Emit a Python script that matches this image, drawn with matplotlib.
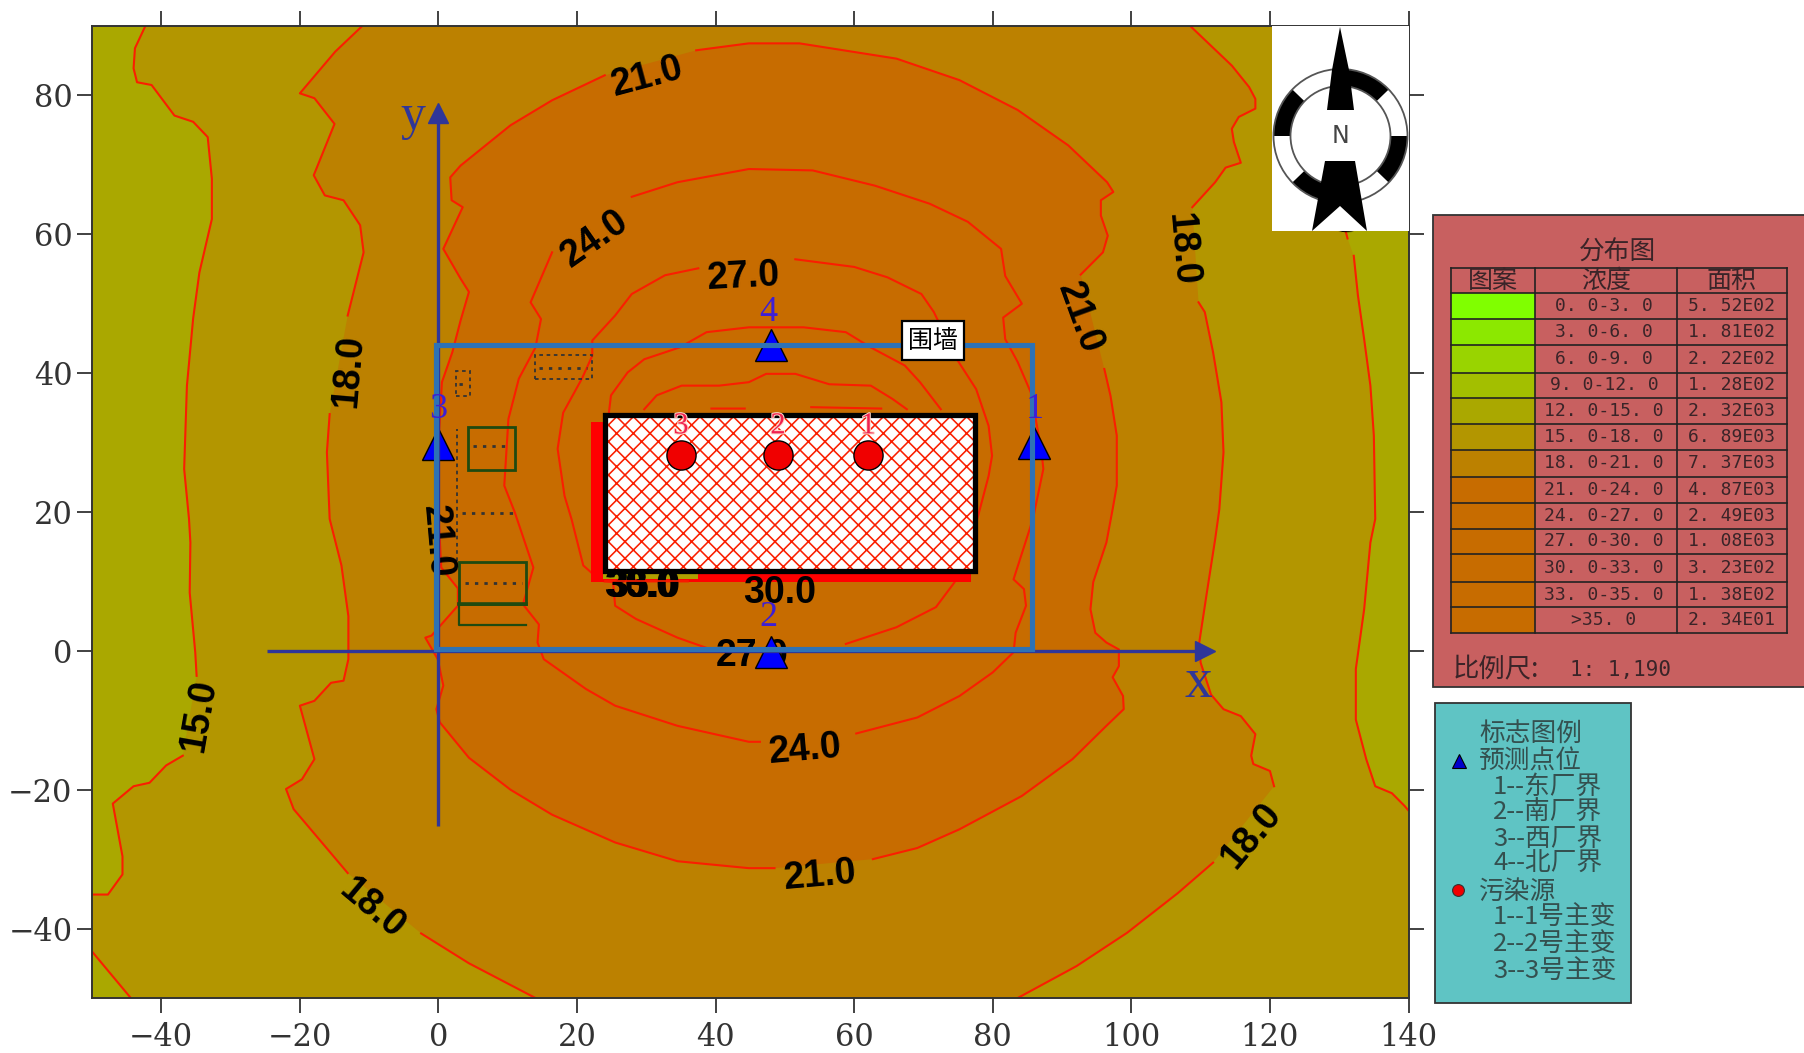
import numpy as np
import matplotlib
matplotlib.use("Agg")
import matplotlib.pyplot as plt
from matplotlib.patches import Rectangle, Polygon, Wedge, Circle
import matplotlib.patheffects as pe

CJK = ['Noto Sans CJK SC', 'DejaVu Sans']
plt.rcParams['font.family'] = CJK
plt.rcParams['hatch.linewidth'] = 1.15
plt.rcParams['axes.unicode_minus'] = True

N = (np.nan, np.nan)

# ---------- data ----------
x_ticks = [-40, -20, 0, 20, 40, 60, 80, 100, 120, 140]
y_ticks = [-40, -20, 0, 20, 40, 60, 80]

c15_left = [(-42.3,90),(-43.8,86.8),(-44,83.9),(-43.5,81.9),(-41.4,81.5),(-38.1,77.1),(-35.4,76.2),(-33.3,74),
            (-32.7,68),(-32.7,62.2),(-34.5,54.5),(-35.4,47.9),(-36.3,38.2),(-36.7,26.2),(-36,19),(-35.8,15.6),
            (-35.9,8.4),(-35.1,-0.2),(-34.9,-3.6),N,(-36.9,-15.1),(-39.3,-16.5),(-41.7,-19),(-44,-19.5),(-47,-22),
            (-45.6,-29.6),(-45.6,-32.2),(-47.7,-35.1),(-50,-35.1)]
c15_corner = [(-50,-43.3),(-44.4,-50)]
c15_right = [(124,90),(128,72),(131.2,59.4),N,(132.1,56.9),(132.7,51.2),(133.6,44.9),(134.5,38.2),(135,31),(135.2,19),
             (134.5,15.6),(133.6,6),(132.4,-2.6),(132.4,-9.9),(133.9,-15.6),(135.2,-19.5),(137.6,-20.5),(139.4,-22.3),(140,-23)]

c18_left = [(-11,90),(-14.9,86.3),(-20,80.3),(-17.9,79.6),(-15,75.9),(-18,68.5),(-16.4,65.6),(-13.7,64.9),(-11.3,61.3),
            (-10.8,57.4),(-13.1,48.3),N,(-15.7,34.1),(-16.1,28.6),(-15.7,19),(-14,12.3),(-13,5),(-13,-1.2),(-13.7,-4.3),
            (-15.5,-4.6),(-17.9,-7.2),(-20,-7.9),(-17.9,-15.6),(-19.7,-18.5),(-22,-19.9),(-20.9,-22.8),(-13.1,-32),N,
            (-2.5,-40.7),(4.4,-45),(14,-50)]
c18_right = [(83.6,-50),(92.1,-45.4),(99.4,-40.6),(106.7,-34.9),(111.8,-30.5),N,(120.6,-19.5),(120,-17.3),(117.6,-16.3),
             (117.3,-15.1),(117.9,-12),(115.8,-9.4),(113.3,-8.4),(111.5,-6.3),(110,-1.7),(109.8,1.2),(110.9,8.4),
             (112.1,16.1),(112.7,20.4),(113.3,28.6),(113,35.8),(111.8,43),(110.6,48.8),(109.7,50.2),N,(108.8,63.9),
             (112.1,67.5),(113.6,69.6),(115.8,70.3),(114.8,73.3),(114.5,75.2),(115.5,76.9),(117.9,78.1),(117.9,79.5),
             (117,81.2),(114.5,84.3),(108.5,90)]

c21 = [(37.2,86.5),(44.8,87.5),(52.1,87.5),(66.1,85.3),(75.2,82.2),(83.6,77.9),(90.9,72.8),(96.5,67.5),(97.4,66.1),
       (95.6,64.9),(95.6,62.7),(96.6,59.8),(95.9,57.4),(92.7,54.2),N,(96.1,40.6),(97,36.7),(97.9,31),(97.9,23.8),
       (97.3,20.4),(96.4,15.6),(94.5,9.9),(94.1,6),(94.8,2.6),(96.4,1.2),(98.2,0.2),(98.2,-2.2),(97.3,-3.8),(98.8,-6.5),
       (98.9,-8.4),(96.4,-10.8),(91.5,-15.6),(84.2,-20.9),(75.2,-25.7),(69.1,-28.4),(62.7,-30),N,(48.5,-31.3),
       (44.8,-31.3),(34.5,-30.3),(25.5,-27.6),(16.4,-23.6),(10.4,-20),(4.4,-15.4),(0.2,-10.3),(-0.3,-8.4),(0.7,-5),
       (-0.1,-1.2),(-1.9,1.9),(-1,2.2),(2.8,6.5),(2.8,9),(0.4,12),(0,20),(0,30),(0.5,38.7),(2,43),(3.2,47.6),(4.4,51.7),
       (3.2,53.6),(0.7,57.9),(3.5,63.9),(1.9,64.9),(1.7,68.2),(3.2,69.9),(10.4,75.7),(16.4,79.3),(24,82.9),N,(37.2,86.5)]

c24 = [(27.9,65.4),(34.5,67.5),(44.8,69.4),(54,69.2),(63,67),(70.9,64.4),(76.4,61.8),(81.2,57.9),(81.8,54),(84.2,50),
       (81.5,48),(81.8,44.9),(83.6,41.6),(85.5,37.2),(87,29),(87.3,26.2),(85.8,19),(83,10.3),(84.5,8.9),(84.8,6.5),
       (83.3,2.6),(83,-0.2),(80,-3.1),(75.2,-6.5),(69.1,-9.6),(60.3,-11.9),N,(46.4,-13.1),(44.8,-13.1),(34.5,-10.8),
       (25.5,-7.9),(21.3,-5.5),(15.2,-1.2),(14.3,1.2),(14.5,3.8),(12.2,6.7),(13.7,12),(11,20),(9.5,23.8),(10.1,33.4),
       (11.6,39.2),(14,43.7),(14.8,47.8),(13.3,50.2),(16.4,57.4)]

c27 = [(37.5,55.1),(32.7,54.1),(27.9,51.4),(25.5,48.3),(22.2,44.7),(22.2,42.5),(20.7,39.2),(18,34.3),(17.2,29.1),(18.2,22.3),
       (19.2,19),(20.9,12.3),(23.4,10.1),(25.2,9.9),(25.5,6.5),(28.5,4.6),(34.5,1.9),(39.9,0),N,(58.8,1),(66.1,3.4),(71.8,6.3),
       (74.5,9.9),(77.3,17.5),(77.9,19.5),(79.4,25.2),(79.9,28.1),(79.4,32.4),(77.6,37.7),(74.5,42.5),(71.5,48.8),(69.7,51.4),
       (64.8,53.8),(60,55.3),(51.5,56.4)]
c30 = [(24.6,34.3),(24.9,36.8),(27.3,40.1),(29.7,42),(34.8,43.7),(38.7,45.9),(44.8,46.6),(52.7,46.6),(58.8,45.9),(62.4,43.7),
       (67.3,41.1),(69.5,38.7),(72.5,34.8)]
c33 = [(29.7,34.8),(31.5,36.8),(35.1,38.2),(40.5,38.2),(44.8,38.7),(47.3,39.9),(51.5,39.9),(56.4,38.4),(62.4,38.2),(65.5,36.3),(67.6,34.8)]
c_bits = [(39.4,34.9),(44.2,34.9),N,(53.8,35.1),(63.9,34.9),N,(24,10),(36,10)]

label_text = ['21.0','24.0','27.0','21.0','18.0','18.0','15.0','24.0','21.0','18.0','18.0','30.0','27.0','21.0','15.0']
label_x    = [30.2, 22.6, 44.0, 92.5, 107.3, -13.0, -34.6, 53.0, 55.1, -9.6, 117.3, 49.3, 45.3, -0.2, 130.0]
label_y    = [82.7, 59.4, 53.9, 48.0, 57.8, 40.3, -9.3, -14.3, -32.4, -37.2, -26.6, 8.3, -0.8, 15.8, 65.0]
label_rot  = [15, 35, 3, -70, -85, 85, 80, 5, 5, -40, 50, 0, 0, -85, -85]

source_x = [62.0, 49.0, 35.0]
source_y = [28.2, 28.2, 28.2]
source_id = ['1', '2', '3']
probe_x = [86.0, 48.0, 0.0, 48.0]
probe_y = [29.9, -0.2, 29.8, 44.1]
probe_id = ['1', '2', '3', '4']
probe_num_x = [86.1, 47.6, 0.0, 47.6]
probe_num_y = [34.8, 4.8, 34.8, 48.8]

conc_labels = ['0. 0-3. 0','3. 0-6. 0','6. 0-9. 0','9. 0-12. 0','12. 0-15. 0','15. 0-18. 0','18. 0-21. 0',
               '21. 0-24. 0','24. 0-27. 0','27. 0-30. 0','30. 0-33. 0','33. 0-35. 0','>35. 0']
area_labels = ['5. 52E02','1. 81E02','2. 22E02','1. 28E02','2. 32E03','6. 89E03','7. 37E03',
               '4. 87E03','2. 49E03','1. 08E03','3. 23E02','1. 38E02','2. 34E01']
band_colors = ['#80FF00','#8CE800','#99D400','#A3BF00','#AAA800','#B39600','#BC8100',
               '#C76C00','#C76C00','#C76C00','#C76C00','#C76C00','#C76C00']
marker_legend = ['标志图例','预测点位','1--东厂界','2--南厂界','3--西厂界','4--北厂界','污染源','1--1号主变','2--2号主变','3--3号主变']
marker_indent = [0, 0, 1, 1, 1, 1, 0, 1, 1, 1]

# ---------- figure ----------
RED = '#FA1E00'
NAVY = '#2F3699'
WALL = '#2E72B5'
fig = plt.figure(figsize=(18.04, 10.53), dpi=100, facecolor='white')
ax = fig.add_axes([92/1804, 1-998/1053, (1408.5-92)/1804, (998-26)/1053])
ax.set_xlim(-50, 140)
ax.set_ylim(-50, 90)
ax.set_facecolor('#AAA800')

def arr(p):
    return np.array(p, dtype=float)
def solid(*parts):
    a = np.vstack([arr(p) for p in parts])
    return a[~np.isnan(a[:, 0])]

ax.add_patch(Polygon(solid(c15_left, c15_corner, [(140, -50)], c15_right[::-1]), fc='#B39600', ec='none', zorder=1))
ax.add_patch(Polygon(solid(c18_left, c18_right), fc='#BC8100', ec='none', zorder=1.1))
ax.add_patch(Polygon(solid(c21), fc='#C76C00', ec='none', zorder=1.2))

for line in [c15_left, c15_corner, c15_right, c18_left, c18_right, c21, c24, c27, c30, c33, c_bits]:
    a = arr(line)
    ax.plot(a[:, 0], a[:, 1], color=RED, lw=1.5, zorder=2, solid_joinstyle='round')

# station outline drawings
SITE = '#1F4A10'
ax.add_patch(Rectangle((4.2, 26.1), 6.8, 6.1, fc='none', ec=SITE, lw=2, zorder=2.5))
ax.add_patch(Rectangle((2.9, 6.7), 9.7, 6.1, fc='none', ec=SITE, lw=2, zorder=2.5))
ax.plot([2.9, 2.9, 12.6], [6.7, 3.7, 3.7], color=SITE, lw=1.6, zorder=2.5)
ax.plot([2.9, 12.6], [6.7, 6.7], color=SITE, lw=2.6, zorder=2.5)
ax.plot([2.7, 2.7], [13, 32], color='#333', lw=1.3, ls=(0, (2, 2)), zorder=2.5)
ax.add_patch(Rectangle((2.5, 36.7), 2.1, 3.6, fc='none', ec='#333', lw=1.3, ls=(0, (2, 2)), zorder=2.5))
ax.add_patch(Rectangle((13.9, 39.2), 8.2, 3.4, fc='none', ec='#333', lw=1.3, ls=(0, (2, 2)), zorder=2.5))
for xa, xb, yy in [(14.5, 21.5, 40.8), (5, 10, 29.5), (3.8, 12, 9.8), (3.4, 11, 19.8), (3, 4.2, 38.5)]:
    ax.plot([xa, xb], [yy, yy], color='#333', lw=2, ls=(0, (1.2, 2.2)), zorder=2.5)

# building with shadow, labels smudge under it
ax.add_patch(Rectangle((22.0, 9.9), 54.9, 23.1, fc='#FF0000', ec='none', zorder=3))
ax.add_patch(Rectangle((23.7, 10.4), 13.8, 1.2, fc='#B0A000', ec='none', zorder=3.1))
lab_kw = dict(family='Liberation Sans', weight='bold', fontsize=27, color='black', ha='center', va='center')
for s, dx in [('30.0', -0.2), ('33.0', 0), ('35.0', 0.2)]:
    ax.text(29.4 + dx, 9.2, s, zorder=3.2, **lab_kw)
ax.plot([24, 36], [10, 10], color=RED, lw=1.2, zorder=3.3)
ax.add_patch(Rectangle((24.1, 11.45), 53.4, 22.55, fc='white', ec=RED, hatch='xx', lw=0, zorder=3.5))
ax.add_patch(Rectangle((24.1, 11.45), 53.4, 22.55, fc='none', ec='black', lw=3.8, zorder=3.6, joinstyle='miter'))

for s, x, y, r in zip(label_text, label_x, label_y, label_rot):
    ax.text(x, y, s, rotation=r, rotation_mode='anchor', zorder=3.4, **lab_kw)

# sources
ax.plot(source_x, source_y, ls='none', marker='o', ms=21, mfc='#F00000', mec='black', mew=1, zorder=4)
for s, x in zip(source_id, source_x):
    ax.text(x, 32.4, s, family='Liberation Serif', fontsize=22, color='#F02050', ha='center', va='center', zorder=4,
            path_effects=[pe.withStroke(linewidth=1.5, foreground='#FFD8C8')])

# probes and wall
ax.plot(probe_x, probe_y, ls='none', marker='^', ms=23, mfc='#0000FF', mec='black', mew=1, zorder=4.5)
ax.add_patch(Rectangle((-0.4, 0.2), 86.0, 43.9, fc='none', ec=WALL, lw=3.7, zorder=5, joinstyle='miter'))
for s, x, y in zip(probe_id, probe_num_x, probe_num_y):
    ax.text(x, y, s, family='Liberation Serif', fontsize=26, color='#3D1FD6', ha='center', va='center', zorder=5.5)

# coordinate arrows
ax.plot([-24.8, 110.7], [0, 0], color=NAVY, lw=2.4, zorder=4.8, solid_capstyle='butt')
ax.plot([0, 0], [-25.2, 77.5], color=NAVY, lw=2.4, zorder=4.8, solid_capstyle='butt')
ax.plot([110.7], [0], marker='>', ms=14, color=NAVY, zorder=4.8)
ax.plot([0], [77.5], marker='^', ms=14, color=NAVY, zorder=4.8)
ax.text(109.7, -4.6, 'x', family='Liberation Serif', fontsize=40, color=NAVY, ha='center', va='center', zorder=5)
ax.text(-3.7, 76.9, 'y', family='Liberation Serif', fontsize=36, color=NAVY, ha='center', va='center', zorder=5)

ax.text(71.4, 44.7, '围墙', fontsize=18, color='black', ha='center', va='center', zorder=6,
        bbox=dict(fc='white', ec='black', lw=1.6, pad=4.5))

# axes frame
ax.set_xticks(x_ticks)
ax.set_yticks(y_ticks)
ax.tick_params(axis='both', which='major', top=True, right=True, length=11, width=1.3, color='#333333',
               labelsize=22, labelcolor='#333333', pad=6, direction='out')
ax.tick_params(axis='y', pad=3)
for lb in ax.get_xticklabels() + ax.get_yticklabels():
    lb.set_family('DejaVu Serif')
for sp in ax.spines.values():
    sp.set_linewidth(1.4)
    sp.set_color('#333333')
    sp.set_zorder(10)

# ---------- overlay in figure pixels ----------
ov = fig.add_axes([0, 0, 1, 1], facecolor='none')
ov.set_xlim(0, 1804)
ov.set_ylim(1053, 0)
ov.axis('off')

# compass
cb = fig.add_axes([1272/1804, 1-231/1053, 137/1804, 205/1053], facecolor='white')
cb.set_xlim(0, 137)
cb.set_ylim(205, 0)
cb.set_aspect('auto')
cb.axis('off')
cb.add_patch(Rectangle((0, 0), 137, 205, fc='white', ec='none', zorder=0))
cx, cy = 68.5, 110
for a, b in [(44, 90), (-44, 0), (-136, -100), (136, 180)]:
    # y axis is inverted, so mirror the angles
    cb.add_patch(Wedge((cx, cy), 67, -b, -a, width=17, fc='black', ec='none', zorder=1))
cb.add_patch(Circle((cx, cy), 67, fc='none', ec='#555555', lw=1.3, zorder=2))
cb.add_patch(Circle((cx, cy), 50, fc='none', ec='#555555', lw=1.3, zorder=2))
cb.add_patch(Polygon([(68, 1), (77, 44), (82, 84), (55, 84), (60, 44)], fc='black', ec='none', zorder=3))
cb.add_patch(Polygon([(53, 135), (83, 135), (95, 205), (68, 180), (40, 205)], fc='black', ec='none', zorder=3))
cb.text(cx, 110, 'N', family='DejaVu Sans', fontsize=17, color='#444444', ha='center', va='center', zorder=4)

# distribution panel
TXT = '#3A2428'
MONO = 'DejaVu Sans Mono'
ov.add_patch(Rectangle((1433, 215), 372, 472, fc='#C86060', ec='#333333', lw=1.3, clip_on=False))
ov.text(1617, 253, '分布图', fontsize=18.5, color=TXT, ha='center', va='center')
row_lines = [268, 293, 319, 345, 373, 398, 424, 450, 477, 503, 529, 554, 582, 607, 633]
col_lines = [1451, 1535, 1677, 1787]
for i in range(13):
    y0, y1 = row_lines[i + 1], row_lines[i + 2]
    ov.add_patch(Rectangle((col_lines[0], y0), col_lines[1] - col_lines[0], y1 - y0, fc=band_colors[i], ec='none'))
    ov.text((col_lines[1] + col_lines[2]) / 2 - 2, (y0 + y1) / 2, conc_labels[i], family=MONO, fontsize=13,
            color=TXT, ha='center', va='center')
    ov.text((col_lines[2] + col_lines[3]) / 2, (y0 + y1) / 2, area_labels[i], family=MONO, fontsize=13,
            color=TXT, ha='center', va='center')
for y in row_lines:
    ov.plot([col_lines[0], col_lines[-1]], [y, y], color='#222222', lw=1.2)
for x in col_lines:
    ov.plot([x, x], [row_lines[0], row_lines[-1]], color='#222222', lw=1.2)
for s, x in zip(['图案', '浓度', '面积'], [1493, 1606, 1732]):
    ov.text(x, 281, s, fontsize=18, color=TXT, ha='center', va='center')
ov.text(1453, 670, '比例尺:', fontsize=19, color=TXT, ha='left', va='center')
ov.text(1570, 670, '1: 1,190', family=MONO, fontsize=15, color=TXT, ha='left', va='center')

# marker legend panel
ov.add_patch(Rectangle((1435, 703), 196, 300, fc='#5FC4C4', ec='#333333', lw=1.3, clip_on=False))
TXT2 = '#34504F'
line_y = [735, 762, 787, 813, 839, 864, 892, 918, 945, 972]
for s, ind, y in zip(marker_legend, marker_indent, line_y):
    ov.text(1493 if ind else 1479, y, s, fontsize=18.5, color=TXT2, ha='left', va='center')
ov.plot([1459], [761], marker='^', ms=10, mfc='#0000CC', mec='black', mew=0.8)
ov.plot([1458], [890], marker='o', ms=8.5, mfc='#F00000', mec='#333', mew=0.8)

fig.savefig('out.png', dpi=100, facecolor='white')
